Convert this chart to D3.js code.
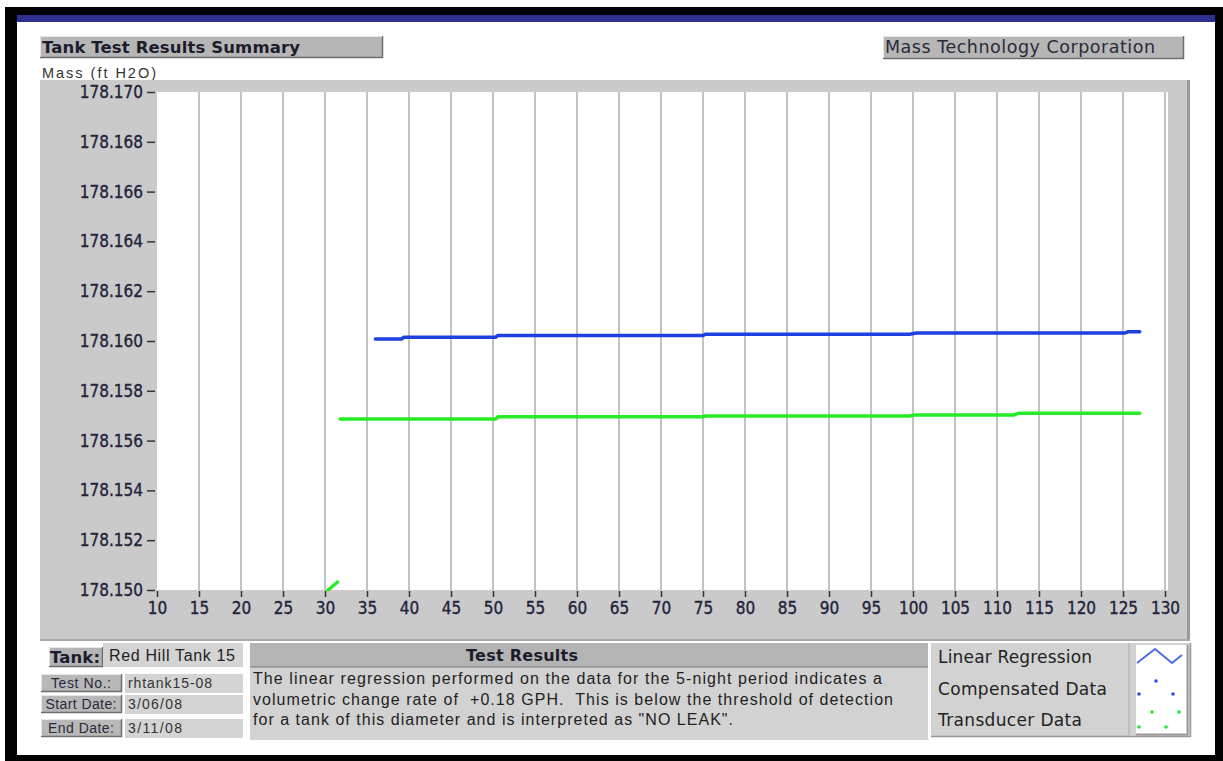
<!DOCTYPE html>
<html><head><meta charset="utf-8">
<script src="https://cdn.jsdelivr.net/npm/d3@7"></script>
<style>html,body{margin:0;padding:0;background:#fff;overflow:hidden}svg{display:block}text{white-space:pre}</style>
</head><body><svg id="c" width="1223" height="761"></svg>
<script>
// ---- data ----
const xTickValues = [10,15,20,25,30,35,40,45,50,55,60,65,70,75,80,85,90,95,100,105,110,115,120,125,130];
const yTickValues = [178.150,178.152,178.154,178.156,178.158,178.160,178.162,178.164,178.166,178.168,178.170];
const compensatedX = [36, 39.1, 39.4, 50.3, 50.6, 75.0, 75.3, 99.6, 100.4, 125.2, 125.6, 127.0];
const compensatedY = [178.16008,178.16008,178.16015,178.16015,178.16022,178.16022,178.16027,178.16027,178.16032,178.16032,178.16037,178.16037];
const transducerX = [31.8, 50.3, 50.6, 75.0, 75.3, 99.6, 100.2, 112.0, 112.6, 127.0];
const transducerY = [178.15687,178.15687,178.15696,178.15696,178.15699,178.15699,178.15703,178.15703,178.15710,178.15710];
const transducerStartX = [30.2, 31.5];
const transducerStartY = [178.14995, 178.15032];
const titleText = "Tank Test Results Summary";
const companyText = "Mass Technology Corporation";
const yAxisTitle = "Mass (ft H2O)";
const tankName = "Red Hill Tank 15";
const infoLabels = ["Test No.:", "Start Date:", "End Date:"];
const infoValues = ["rhtank15-08", "3/06/08", "3/11/08"];
const resultLines = [
  "The linear regression performed on the data for the 5-night period indicates a",
  "volumetric change rate of  +0.18 GPH.  This is below the threshold of detection",
  "for a tank of this diameter and is interpreted as \"NO LEAK\"."
];
const legendLabels = ["Linear Regression", "Compensated Data", "Transducer Data"];

// ---- drawing ----
const svg = d3.select("#c");
const TAH = "'DejaVu Sans','Verdana',sans-serif";
const TAHC = "'DejaVu Sans Condensed','DejaVu Sans',sans-serif";
const ARI = "'Liberation Sans',Arial,sans-serif";

function txt(x,y,s,opt){
  const t = svg.append("text").attr("x",x).attr("y",y).text(s)
    .attr("font-family",opt.family||ARI).attr("font-size",opt.size||14)
    .attr("fill",opt.fill||"#222");
  if(opt.bold) t.attr("font-weight","bold");
  if(opt.anchor) t.attr("text-anchor",opt.anchor);
  if(opt.width) t.attr("textLength",opt.width).attr("lengthAdjust","spacing");
  return t;
}

// frame
svg.append("rect").attr("x",0).attr("y",0).attr("width",1223).attr("height",761).attr("fill","#fff");
svg.append("rect").attr("x",5).attr("y",7).attr("width",1218).attr("height",9).attr("fill","#000");
svg.append("rect").attr("x",13).attr("y",15).attr("width",1202).attr("height",7).attr("fill","#2e2e8c");
svg.append("rect").attr("x",5).attr("y",7).attr("width",12).attr("height",754).attr("fill","#000");
svg.append("rect").attr("x",1215).attr("y",7).attr("width",8).attr("height",754).attr("fill","#000");
svg.append("rect").attr("x",5).attr("y",755).attr("width",1218).attr("height",6).attr("fill","#000");

function bevel(x,y,w,h,fill){
  const g = svg.append("g");
  g.append("rect").attr("x",x).attr("y",y).attr("width",w).attr("height",h).attr("fill",fill);
  g.append("path").attr("d",`M${x},${y+h-0.5}H${x+w-0.5}V${y}`).attr("stroke","#6e6e6e").attr("stroke-width",1.5).attr("fill","none");
  g.append("path").attr("d",`M${x+0.5},${y+h-1}V${y+0.5}H${x+w-1}`).attr("stroke","#e6e6e6").attr("stroke-width",1).attr("fill","none");
  return g;
}

// title boxes
bevel(40,36,343,22,"#b6b6b6");
txt(42,53,titleText,{family:TAH,bold:true,size:16.5,fill:"#1c1c2c",width:258});
bevel(883,36,301,23,"#b6b6b6");
txt(885,53,companyText,{family:TAH,size:17.5,fill:"#2a2a3a",width:270});
txt(42,78,yAxisTitle,{family:ARI,size:14.5,fill:"#333",width:114});

// plot panel
svg.append("rect").attr("x",40).attr("y",80).attr("width",1150).attr("height",561).attr("fill","#cacaca");
svg.append("line").attr("x1",1188.5).attr("x2",1188.5).attr("y1",80).attr("y2",641).attr("stroke","#999").attr("stroke-width",3);
svg.append("line").attr("x1",40).attr("x2",1190).attr("y1",640).attr("y2",640).attr("stroke","#a8a8a8").attr("stroke-width",2);

const x = d3.scaleLinear().domain([10,130]).range([157,1165]);
const y = d3.scaleLinear().domain([178.150,178.170]).range([590,92]);

svg.append("rect").attr("x",157).attr("y",92).attr("width",1011).attr("height",498).attr("fill","#fff");

// grid
svg.append("g").selectAll("line").data(xTickValues.slice(1)).join("line")
  .attr("x1",d=>x(d)).attr("x2",d=>x(d)).attr("y1",92).attr("y2",590)
  .attr("stroke","#c2c2c2").attr("stroke-width",2);

// x axis
const xAxis = svg.append("g").attr("transform","translate(0,591)")
  .call(d3.axisBottom(x).tickValues(xTickValues).tickFormat(d3.format("d")).tickSize(6).tickPadding(5));
xAxis.select(".domain").remove();
xAxis.selectAll(".tick line").attr("stroke","#333").attr("stroke-width",1.5);
xAxis.selectAll("text").attr("font-family",TAHC).attr("font-size",17).attr("fill","#23233a")
  .attr("stroke","#23233a").attr("stroke-width",0.35);

// y axis
const yAxis = svg.append("g").attr("transform","translate(155,0)")
  .call(d3.axisLeft(y).tickValues(yTickValues).tickFormat(d3.format(".3f")).tickSize(8).tickPadding(4));
yAxis.select(".domain").remove();
yAxis.selectAll(".tick line").attr("stroke","#333").attr("stroke-width",1.5);
yAxis.selectAll("text").attr("font-family",TAHC).attr("font-size",17).attr("fill","#23233a")
  .attr("stroke","#23233a").attr("stroke-width",0.35);

// data lines
svg.append("clipPath").attr("id","pc").append("rect").attr("x",157).attr("y",92).attr("width",1011).attr("height",499);
const line = d3.line().x(d=>x(d[0])).y(d=>y(d[1]));
const gp = svg.append("g").attr("clip-path","url(#pc)");
gp.append("path").datum(transducerStartX.map((v,i)=>[v,transducerStartY[i]])).attr("d",line)
  .attr("fill","none").attr("stroke","#26ec26").attr("stroke-width",3.5).attr("stroke-linecap","round");
gp.append("path").datum(transducerX.map((v,i)=>[v,transducerY[i]])).attr("d",line)
  .attr("fill","none").attr("stroke","#26ec26").attr("stroke-width",3.5).attr("stroke-linecap","round");
gp.append("path").datum(compensatedX.map((v,i)=>[v,compensatedY[i]])).attr("d",line)
  .attr("fill","none").attr("stroke","#1e40e0").attr("stroke-width",3.5).attr("stroke-linecap","round");

// bottom widgets
bevel(49,647,54,20,"#b4b4b4");
txt(50,663,"Tank:",{family:TAH,bold:true,size:16.5,fill:"#1c1c2c",width:50});
svg.append("rect").attr("x",103).attr("y",643).attr("width",140).attr("height",24).attr("fill","#d4d4d4");
txt(109,661,tankName,{family:ARI,size:16,fill:"#222",width:126});
const rowsY = [674,695,719];
const labW = [60,71,66];
const valW = [84,54,54];
infoLabels.forEach((lab,i)=>{
  bevel(41,rowsY[i],81,18,"#b8b8b8");
  txt(81,rowsY[i]+14,lab,{family:ARI,size:14,fill:"#2a2a3a",anchor:"middle",width:labW[i]});
  svg.append("rect").attr("x",125).attr("y",rowsY[i]).attr("width",118).attr("height",19).attr("fill","#d4d4d4");
  txt(128,rowsY[i]+14,infoValues[i],{family:ARI,size:14,fill:"#333",width:valW[i]});
});

// test results
svg.append("rect").attr("x",250).attr("y",643).attr("width",678).attr("height",24).attr("fill","#b4b4b4");
svg.append("line").attr("x1",250).attr("x2",928).attr("y1",667).attr("y2",667).attr("stroke","#8c8c8c").attr("stroke-width",1.5);
txt(522,661,"Test Results",{family:TAH,bold:true,size:16,fill:"#1c1c2c",anchor:"middle",width:112});
svg.append("rect").attr("x",250).attr("y",668).attr("width",678).attr("height",72).attr("fill","#d2d2d2");
const resW = [629,640,480];
resultLines.forEach((t,i)=>{
  txt(253,684+i*20.5,t,{family:ARI,size:16,fill:"#222",width:resW[i]});
});

// legend
svg.append("rect").attr("x",931).attr("y",643).attr("width",259).attr("height",94).attr("fill","#d2d2d2");
svg.append("path").attr("d","M931,736.5H1190.5V643").attr("stroke","#999").attr("stroke-width",1.5).attr("fill","none");
svg.append("line").attr("x1",1129).attr("x2",1129).attr("y1",643).attr("y2",736).attr("stroke","#bdbdbd").attr("stroke-width",2);
const legY = [663,695,726];
const legW = [154,169,144];
legendLabels.forEach((t,i)=>{
  txt(938,legY[i],t,{family:TAH,size:17,fill:"#222",width:legW[i]});
});
svg.append("rect").attr("x",1136).attr("y",645).attr("width",51).attr("height",89).attr("fill","#fff");
svg.append("path").attr("d","M1136,734.5H1187.5V645").attr("stroke","#9a9a9a").attr("stroke-width",2).attr("fill","none");
svg.append("polyline").attr("points","1137,663 1155,649 1172,663 1182,655")
  .attr("fill","none").attr("stroke","#4a6ee8").attr("stroke-width",2);
[[1156,681],[1139,694],[1173,694]].forEach(p=>svg.append("circle").attr("cx",p[0]).attr("cy",p[1]).attr("r",1.8).attr("fill","#2a4ee6"));
[[1152,712],[1179,712],[1139,727],[1166,727]].forEach(p=>svg.append("circle").attr("cx",p[0]).attr("cy",p[1]).attr("r",1.8).attr("fill","#22e622"));
</script></body></html>
